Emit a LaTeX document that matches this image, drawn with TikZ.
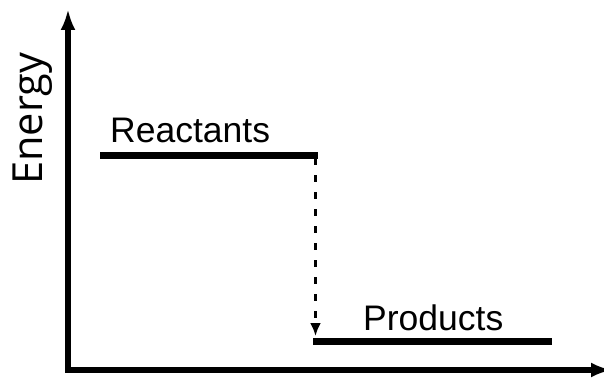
\documentclass[tikz,border=0pt]{standalone}
\usepackage{fontspec}
\setmainfont{Liberation Sans}
\newfontfamily\labelfont{Open Sans}
\usetikzlibrary{arrows.meta}
\begin{document}
\begin{tikzpicture}[x=1pt,y=-1pt,
  axisline/.style={line width=6pt,-{Latex[length=21pt,width=15pt]}},
  levelline/.style={line width=7pt},
  transition/.style={line width=3.5pt,dash pattern=on 7pt off 10pt,-{Latex[length=13pt,width=11pt]}},
  levellabel/.style={anchor=base west,inner sep=0pt,font=\fontsize{35.5}{42}\selectfont},
  axislabel/.style={anchor=base west,inner sep=0pt,rotate=90,font=\labelfont\fontsize{41.5}{48}\selectfont}]
\useasboundingbox (0,0) rectangle (604,377);
\fill[white] (0,0) rectangle (604,377);
% axes
\coordinate (origin) at (68,370);
\coordinate (ytop) at (68,9);
\coordinate (xorigin) at (65,370);
\coordinate (xend) at (612,370);
\draw[axisline] (origin) -- (ytop);
\draw[axisline] (xorigin) -- (xend);
\node[axislabel] (energy) at (42,185) {Energy};
% levels
\coordinate (r1) at (100,155.5);
\coordinate (r2) at (318,155.5);
\coordinate (p1) at (313,341.5);
\coordinate (p2) at (552,341.5);
\draw[levelline] (r1) -- (r2);
\draw[levelline] (p1) -- (p2);
\node[levellabel] (reactants) at (110,142) {Reactants};
\node[levellabel] (products) at (363,330) {Products};
% transition
\coordinate (t1) at (315.5,158);
\coordinate (t2) at (315.5,336);
\draw[transition] (t1) -- (t2);
\end{tikzpicture}
\end{document}
